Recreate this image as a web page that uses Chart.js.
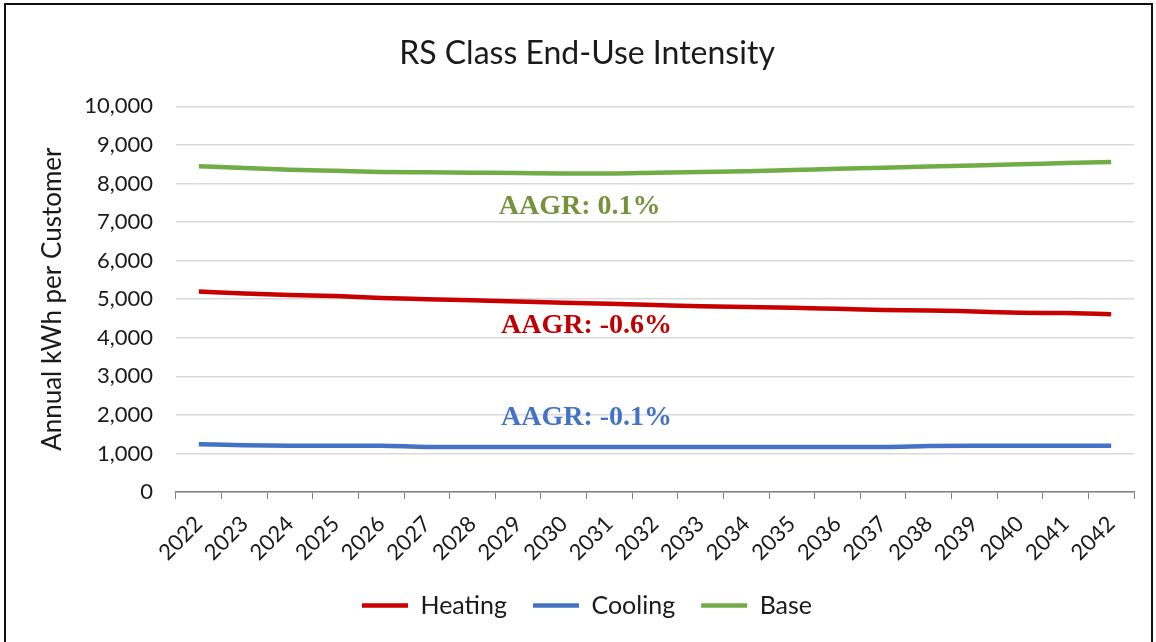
<!DOCTYPE html>
<html>
<head>
<meta charset="utf-8">
<script src="https://cdn.jsdelivr.net/npm/chart.js@4.4.0/dist/chart.umd.min.js"></script>
<style>
  html, body { margin: 0; padding: 0; background: #fff; }
  #wrap { position: relative; width: 1156px; height: 642px; }
  #frame {
    position: absolute; left: 4px; top: 3px; width: 1145px; height: 660px;
    border: 2px solid #111; pointer-events: none;
  }
</style>
</head>
<body>
<div id="wrap">
  <canvas id="euiChart" width="1156" height="642"></canvas>
  <div id="frame"></div>
</div>
<script>
  // chart values
  const years = [
    `2022`, `2023`, `2024`, `2025`, `2026`, `2027`, `2028`, `2029`, `2030`, `2031`, `2032`,
    `2033`, `2034`, `2035`, `2036`, `2037`, `2038`, `2039`, `2040`, `2041`, `2042`,
  ];
  const heating = [
    5200, 5150, 5110, 5080, 5030, 5000, 4970, 4940, 4910, 4880, 4850,
    4820, 4800, 4780, 4750, 4720, 4710, 4680, 4650, 4640, 4610,
  ];
  const cooling = [
    1240, 1210, 1200, 1200, 1200, 1170, 1170, 1170, 1170, 1170, 1170,
    1170, 1170, 1170, 1170, 1170, 1190, 1200, 1200, 1200, 1200,
  ];
  const base = [
    8450, 8400, 8360, 8330, 8300, 8290, 8280, 8270, 8260, 8260, 8280,
    8300, 8320, 8350, 8380, 8410, 8440, 8470, 8500, 8530, 8560,
  ];

  // AAGR notes: text, category position, value position
  const noteText = [`AAGR: -0.6%`, `AAGR: -0.1%`, `AAGR: 0.1%`];
  const noteAt = [8.5, 8.5, 8.35];
  const noteVal = [4300, 1920, 7400];
  const noteColor = [`rgb(192,0,0)`, `rgb(68,114,196)`, `rgb(118,146,60)`];

  const font = `Lato`;

  const notesPlugin = {
    id: `notes`,
    // title and legend sit a bit right of the canvas centre in the original
    afterLayout(chart) {
      const shift = 20;
      chart.titleBlock.left += shift;
      chart.titleBlock.right += shift;
      chart.legend.left += shift;
      chart.legend.right += shift;
    },
    afterDatasetsDraw(chart) {
      const { ctx, scales } = chart;
      ctx.save();
      ctx.font = `bold 28px "Liberation Serif"`;
      ctx.textAlign = `center`;
      ctx.textBaseline = `middle`;
      noteText.forEach((t, i) => {
        ctx.fillStyle = noteColor[i];
        ctx.fillText(t, scales.x.getPixelForValue(noteAt[i]), scales.y.getPixelForValue(noteVal[i]));
      });
      ctx.restore();
    },
  };

  const line = (label, data, color) => ({
    label: label,
    data: data,
    borderColor: color,
    backgroundColor: color,
    borderWidth: 4.5,
    pointRadius: 0,
    fill: false,
    cubicInterpolationMode: `monotone`,
  });

  const cfg = {
    type: `line`,
    data: {
      labels: years,
      datasets: [
        line(`Heating`, heating, `rgb(200,0,0)`),
        line(`Cooling`, cooling, `rgb(68,114,196)`),
        line(`Base`, base, `rgb(112,173,71)`),
      ],
    },
    options: {
      responsive: false,
      animation: false,
      layout: { padding: { left: 0, right: 22, top: 0, bottom: 14 } },
      plugins: {
        title: {
          display: true,
          text: `RS Class End-Use Intensity`,
          color: `#1a1a1a`,
          font: { family: font, size: 32, weight: `normal` },
          padding: { top: 34, bottom: 34 },
        },
        legend: {
          position: `bottom`,
          labels: {
            usePointStyle: true,
            pointStyle: `line`,
            pointStyleWidth: 46,
            padding: 26,
            color: `#1a1a1a`,
            font: { family: font, size: 25 },
          },
        },
        tooltip: { enabled: false },
      },
      scales: {
        x: {
          offset: true,
          grid: {
            offset: true,
            drawOnChartArea: false,
            drawTicks: true,
            tickLength: 7,
            color: `#808080`,
          },
          border: { display: true, color: `#808080`, width: 1.5 },
          ticks: {
            minRotation: 45,
            maxRotation: 45,
            autoSkip: false,
            padding: 12,
            color: `#1a1a1a`,
            font: { family: font, size: 22 },
          },
          afterFit(s) {
            s.height = 75;
          },
        },
        y: {
          min: 0,
          max: 10000,
          ticks: {
            stepSize: 1000,
            padding: 23,
            color: `#1a1a1a`,
            font: { family: font, size: 22 },
            callback: (v) => v.toLocaleString(`en-US`),
          },
          grid: { color: `#d9d9d9`, lineWidth: 1.5, drawTicks: false },
          border: { display: false },
          title: {
            display: true,
            text: `Annual kWh per Customer`,
            color: `#1a1a1a`,
            font: { family: font, size: 26 },
            padding: { top: 37, bottom: 0 },
          },
          afterFit(s) {
            s.width = 176;
          },
        },
      },
    },
    plugins: [notesPlugin],
  };

  const euiChart = new Chart(document.getElementById(`euiChart`), cfg);
</script>
</body>
</html>
